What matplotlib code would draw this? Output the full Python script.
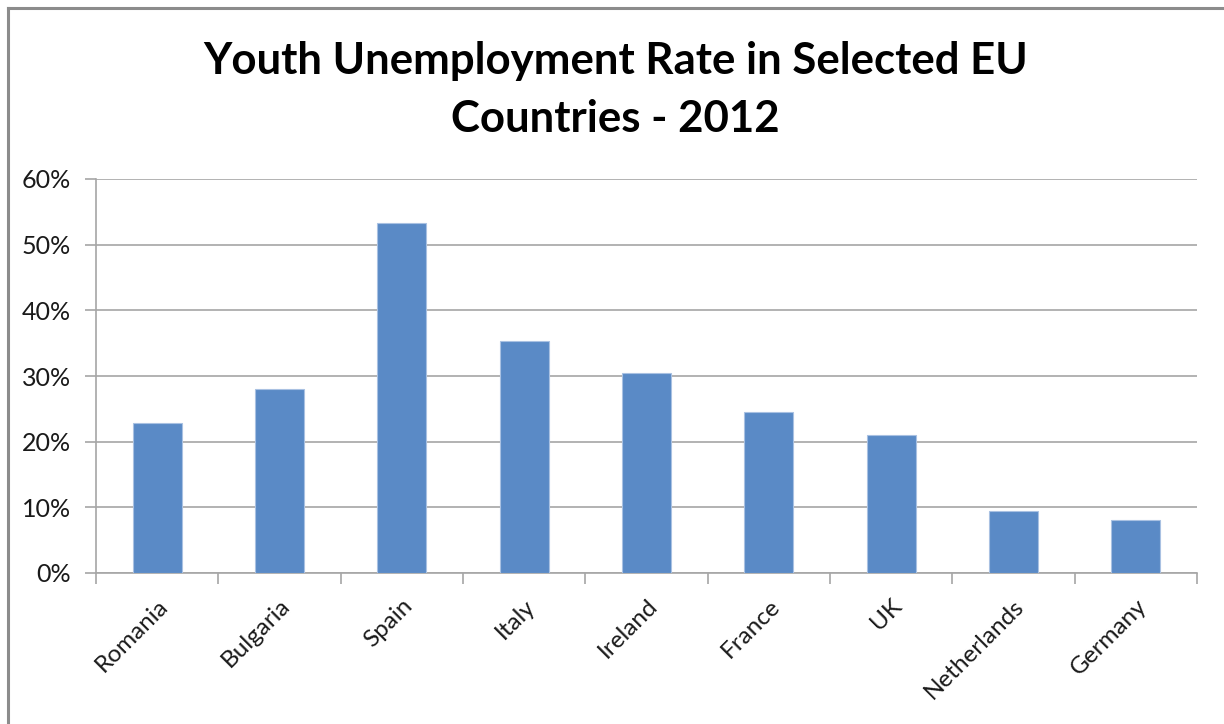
import matplotlib
matplotlib.use('Agg')
import matplotlib.pyplot as plt
from matplotlib.lines import Line2D
import numpy as np

plt.rcParams['font.family'] = ['Lato', 'DejaVu Sans']

countries = ['Romania', 'Bulgaria', 'Spain', 'Italy', 'Ireland',
             'France', 'UK', 'Netherlands', 'Germany']
rates = [22.8, 28.0, 53.3, 35.3, 30.4, 24.5, 21.0, 9.5, 8.1]
y_ticks = [0, 10, 20, 30, 40, 50, 60]

grid_col = '#a6a6a6'
bar_col = '#5a8ac6'

fig = plt.figure(figsize=(12.24, 7.24), dpi=100)
ax = fig.add_axes([96 / 1224, 1 - 573 / 724, (1197 - 96) / 1224, (573 - 179) / 724])

x = np.arange(len(countries))
ax.bar(x, rates, width=0.4, color=bar_col, edgecolor='#a9c1e2', linewidth=0.8, zorder=3)

ax.set_xlim(-0.5, len(countries) - 0.5)
ax.set_ylim(0, 60)
ax.set_yticks(y_ticks)
ax.set_yticklabels([f'{v}%' for v in y_ticks], fontsize=18, color='#1a1a1a')
ax.yaxis.grid(True, color=grid_col, linewidth=1.2, zorder=0)
ax.tick_params(axis='y', length=8, width=1.2, color=grid_col, pad=10)

# category labels at centres, tick marks at the boundaries
ax.set_xticks(x)
ax.set_xticklabels(countries, rotation=45, ha='right', rotation_mode='anchor',
                   fontsize=17.5, color='#1a1a1a')
ax.tick_params(axis='x', which='major', length=0, pad=16)
ax.set_xticks(np.arange(-0.5, len(countries)), minor=True)
ax.tick_params(axis='x', which='minor', length=8, width=1.2, color=grid_col)

for side in ['top', 'right']:
    ax.spines[side].set_visible(False)
for side in ['left', 'bottom']:
    ax.spines[side].set_color(grid_col)
    ax.spines[side].set_linewidth(1.2)

fig.text(0.503, 1 - 41 / 724, 'Youth Unemployment Rate in Selected EU\nCountries - 2012',
         ha='center', va='top', fontsize=31.5, fontweight='bold',
         linespacing=1.55, color='black')

# chart frame (top and left edges visible)
fig.add_artist(Line2D([8 / 1224, 1], [1 - 8 / 724, 1 - 8 / 724], color='#8c8c8c',
                      linewidth=2.2, transform=fig.transFigure))
fig.add_artist(Line2D([8 / 1224, 8 / 1224], [0, 1 - 8 / 724], color='#8c8c8c',
                      linewidth=2.2, transform=fig.transFigure))

fig.savefig('out.png', dpi=100)
